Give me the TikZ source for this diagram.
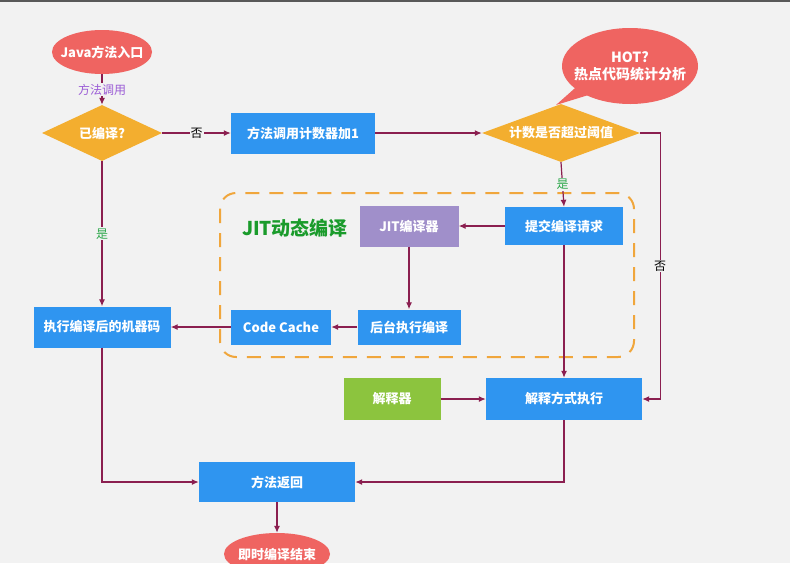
\documentclass[tikz,border=0pt]{standalone}
\usepackage{fontspec}
\setmainfont{Noto Sans CJK SC}
\usepackage{tikz}
\usetikzlibrary{arrows.meta,positioning,shapes.geometric,shapes.callouts,calc}
\definecolor{pageBG}{HTML}{F2F2F2}
\definecolor{flowRed}{HTML}{EF6461}
\definecolor{flowOrange}{HTML}{F3AE2F}
\definecolor{flowBlue}{HTML}{2F95F0}
\definecolor{flowPurple}{HTML}{A08FCA}
\definecolor{flowGreen}{HTML}{8CC43E}
\definecolor{flowLine}{HTML}{8B1F50}
\definecolor{lblPurple}{HTML}{9B5CD6}
\definecolor{lblGreen}{HTML}{2EA84C}
\definecolor{jitOrange}{HTML}{F0A63C}
\tikzset{
  fc/box/.style={draw=none, rectangle, fill=flowBlue, text=white, font=\bfseries\fontsize{13}{15}\selectfont, align=center, inner sep=2pt},
  fc/cond/.style={draw=none, diamond, fill=flowOrange, text=white, font=\bfseries\fontsize{13}{15}\selectfont, aspect=2.4, inner sep=0pt},
  fc/term/.style={draw=none, ellipse, fill=flowRed, text=white, font=\bfseries\fontsize{13}{15}\selectfont, align=center, inner xsep=-12pt, inner ysep=4pt},
  fc/line/.style={draw=flowLine, line width=1.2pt, -{Latex[length=7pt,width=6pt]}},
  fc/lbl/.style={fill=pageBG, inner sep=1pt, font=\fontsize{12}{14}\selectfont}
}

\begin{document}
\begin{tikzpicture}[x=1pt, y=-1pt]
\fill[pageBG] (0,0) rectangle (790,563);
\useasboundingbox (0,0) rectangle (790,563);
\fill[black!65] (0,0) rectangle (790,1.5);

% JIT group
\draw[jitOrange, line width=2pt, dash pattern=on 14pt off 10pt, rounded corners=16pt]
  (220,193) rectangle (634,357);
\node[text=lblGreen!70!green!80!black, font=\bfseries\fontsize{19}{21}\selectfont] (jitlabel) at (295,228) {JIT动态编译};

% nodes
\node[fc/term, minimum width=100pt, minimum height=44pt] (start) at (102,52) {Java方法入口};
\node[fc/cond, minimum width=120pt, minimum height=56pt] (compiled) at (102,133) {已编译?};
\node[fc/box, minimum width=144pt, minimum height=41pt] (count) at (303,133) {方法调用计数器加1};
\node[fc/cond, minimum width=158pt, minimum height=58pt] (thresh) at (561,133) {计数是否超过阈值};
\node[fc/term, ellipse callout, callout absolute pointer={(556,105)}, minimum width=136pt, minimum height=76pt,
  font=\bfseries\fontsize{14}{17}\selectfont] (hot) at (630,66) {HOT?\\热点代码统计分析};
\node[fc/box, minimum width=118pt, minimum height=38pt] (submit) at (564,226) {提交编译请求};
\node[fc/box, fill=flowPurple, minimum width=99pt, minimum height=41pt] (jitc) at (409,226) {JIT编译器};
\node[fc/box, minimum width=103pt, minimum height=35pt] (bgcomp) at (409,327) {后台执行编译};
\node[fc/box, minimum width=100pt, minimum height=35pt] (cache) at (281,327) {Code Cache};
\node[fc/box, minimum width=137pt, minimum height=41pt] (exec) at (102,327) {执行编译后的机器码};
\node[fc/box, fill=flowGreen, minimum width=97pt, minimum height=42pt] (interp) at (392,399) {解释器};
\node[fc/box, minimum width=156pt, minimum height=42pt] (interpexec) at (564,399) {解释方式执行};
\node[fc/box, minimum width=156pt, minimum height=40pt] (ret) at (277,482) {方法返回};
\node[fc/term, minimum width=106pt, minimum height=42pt] (finish) at (277,554) {即时编译结束};

% connectors
\draw[fc/line] (start) -- (compiled) node[fc/lbl, midway, text=lblPurple] {方法调用};
\draw[fc/line] (compiled.east) -- (count.west) node[fc/lbl, midway] {否};
\draw[fc/line] (count.east) -- (thresh.west);
\draw[fc/line] (thresh.south) -- (submit.north) node[fc/lbl, midway, text=lblGreen] {是};
\draw[fc/line] (thresh.east) -- ++(20,0) |- (interpexec.east) node[fc/lbl, pos=0.25] {否};
\draw[fc/line] (compiled.south) -- (exec.north) node[fc/lbl, midway, text=lblGreen] {是};
\draw[fc/line] (submit.west) -- (jitc.east);
\draw[fc/line] (jitc.south) -- (bgcomp.north);
\draw[fc/line] (bgcomp.west) -- (cache.east);
\draw[fc/line] (cache.west) -- (exec.east);
\draw[fc/line] (submit.south) -- (interpexec.north);
\draw[fc/line] (interp.east) -- (interpexec.west);
\draw[fc/line] (exec.south) |- (ret.west);
\draw[fc/line] (interpexec.south) |- (ret.east);
\draw[fc/line] (ret.south) -- (finish.north);
\end{tikzpicture}
\end{document}
